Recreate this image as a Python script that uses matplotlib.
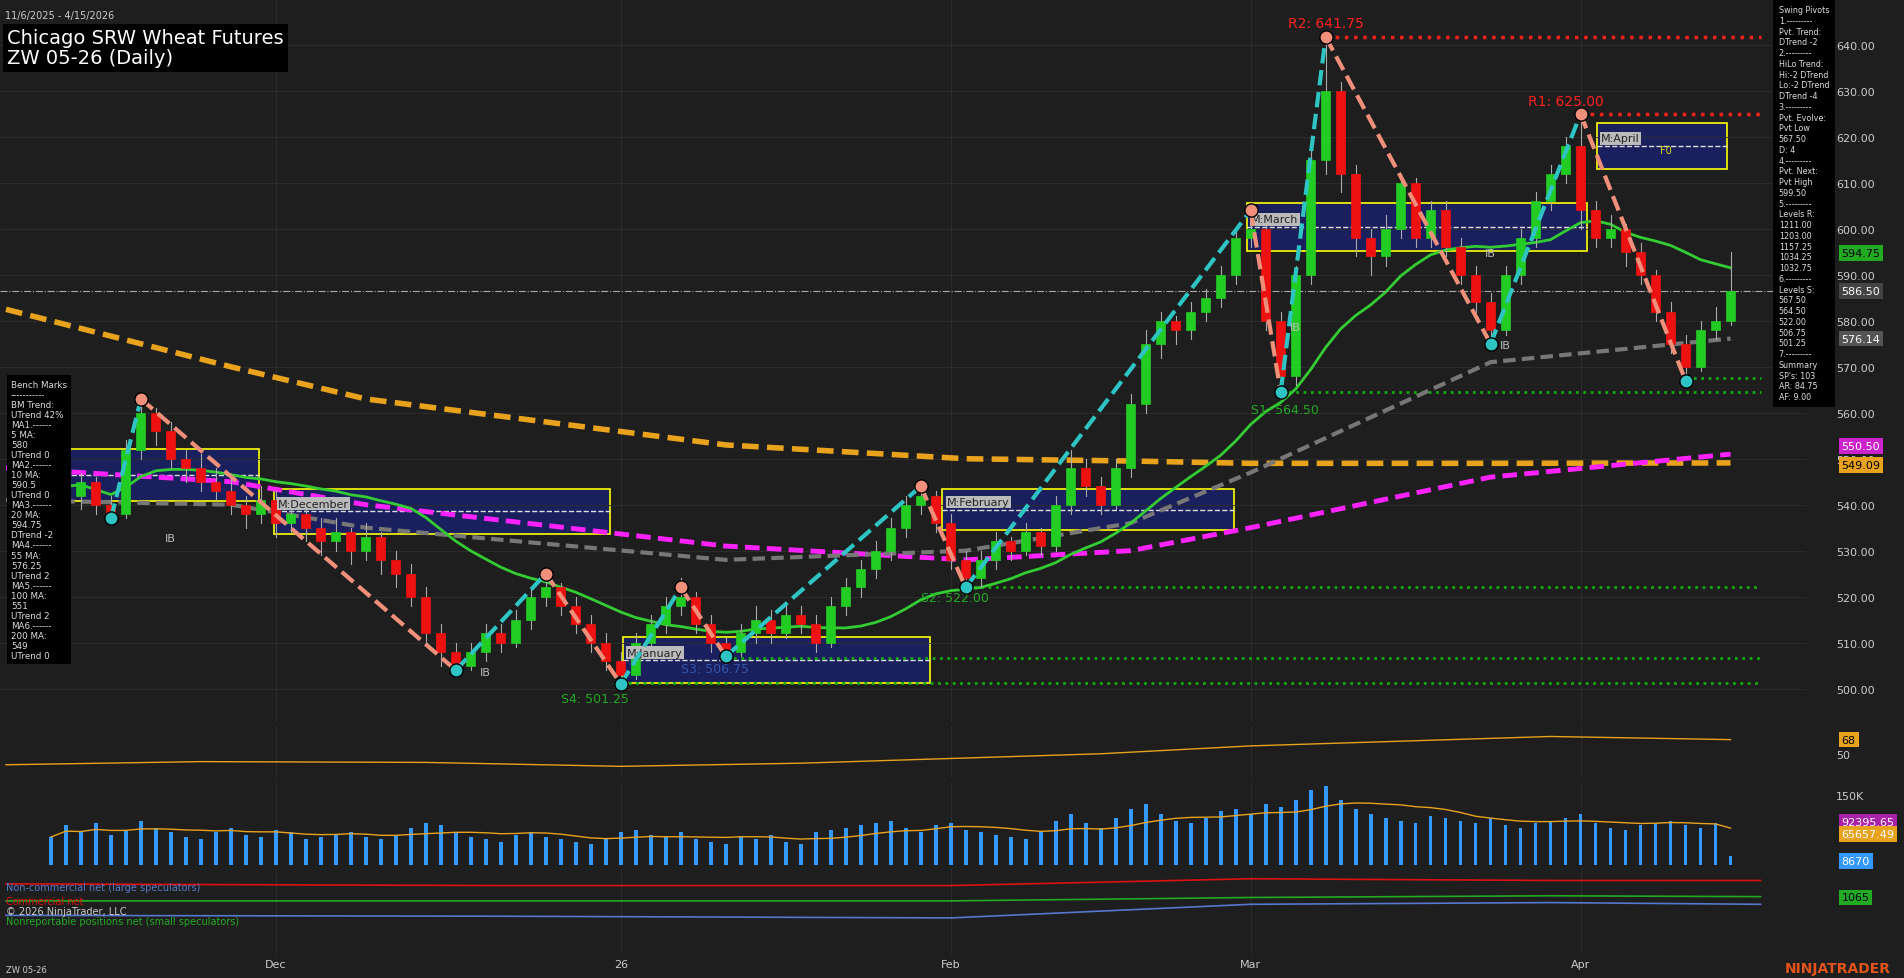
import matplotlib
matplotlib.use("Agg")
import matplotlib.pyplot as plt
import numpy as np
import pandas as pd
from matplotlib.patches import Rectangle
from matplotlib.transforms import blended_transform_factory as btf

W, H = 1566, 805
dates = pd.bdate_range("2025-11-10", "2026-04-15")
ohlc = [
(548,551,543,546),(546,548,540,542),(542,547,539,545),(545,546,538,540),(540,542,536,538),
(538,554,537,552),(552,563,550,560),(560,561,553,556),(556,558,548,550),(550,552,545,548),
(548,551,543,545),(545,548,541,543),(543,546,538,540),(540,542,535,538),(538,544,536,541),
(541,543,533,536),(536,541,534,538),(538,540,532,535),(535,537,529,532),(532,537,530,534),
(534,535,527,530),(530,536,528,533),(533,534,525,528),(528,530,522,525),(525,527,518,520),
(520,522,510,512),(512,514,505,508),(508,510,503,505),(505,510,504,508),(508,514,506,512),
(512,514,508,510),(510,517,509,515),(515,522,513,520),(520,525,518,522),(522,523,516,518),
(518,520,512,514),(514,516,508,510),(510,512,504,506),(506,508,501,503),(503,512,502,510),
(510,516,508,514),(514,520,512,518),(518,524,516,520),(520,521,512,514),(514,516,508,510),
(510,511,506,508),(508,514,507,512),(512,518,510,515),(515,517,510,512),(512,518,511,516),
(516,518,512,514),(514,516,508,510),(510,520,509,518),(518,524,516,522),(522,528,520,526),
(526,532,524,530),(530,537,528,535),(535,542,533,540),(540,545,538,542),(542,543,534,536),
(536,538,526,528),(528,530,522,524),(524,530,522,528),(528,534,526,532),(532,533,528,530),
(530,536,529,534),(534,535,529,531),(531,542,530,540),(540,552,538,548),(548,550,542,544),
(544,546,538,540),(540,550,539,548),(548,564,546,562),(562,578,560,575),(575,582,572,580),
(580,581,575,578),(578,584,576,582),(582,587,580,585),(585,592,583,590),(590,600,588,598),
(598,604,596,600),(600,601,578,580),(580,582,564,568),(568,592,566,590),(590,618,588,615),
(615,642,612,630),(630,632,608,612),(612,614,594,598),(598,600,590,594),(594,603,592,600),
(600,612,598,610),(610,611,596,598),(598,606,596,604),(604,606,594,596),(596,598,588,590),
(590,592,582,584),(584,586,575,578),(578,592,577,590),(590,600,588,598),(598,608,596,606),
(606,614,604,612),(612,620,610,618),(618,625,600,604),(604,606,596,598),(598,603,596,600),
(600,601,592,595),(595,597,588,590),(590,591,580,582),(582,584,573,575),(575,577,567,570),
(570,580,569,578),(578,583,576,580),(580,595,579,586.5)]
opens = [r[0] for r in ohlc]; highs = [r[1] for r in ohlc]
lows = [r[2] for r in ohlc]; closes = [r[3] for r in ohlc]
n = len(ohlc)

ma_idx = [-3, 12, 21, 45, 61, 72, 80, 96, 112]
ma55 = [541, 540, 535, 528, 530, 536, 547, 571, 576.14]
ma100 = [548, 545, 540, 531, 528, 530, 535, 546, 551]
ma200 = [582.5, 570, 563, 553, 550, 549.5, 549, 549, 549.09]

volume = [60,85,70,90,65,75,95,80,70,60,55,70,80,65,60,75,70,55,60,65,
          70,60,55,65,80,90,85,70,60,55,50,65,70,60,55,50,45,55,70,75,
          65,60,70,55,50,45,60,55,65,50,45,70,75,80,85,90,95,80,70,85,
          90,75,70,65,60,55,70,95,110,90,80,100,120,130,110,95,90,100,115,120,
          110,130,125,140,160,170,140,120,110,100,95,90,105,100,95,90,100,85,80,90,
          95,100,110,90,80,75,85,90,95,85,80,90,20]
osc_idx = [-3, 10, 25, 38, 50, 60, 70, 80, 90, 100, 106, 112]
osc = [36, 40, 39, 34, 38, 44, 50, 60, 66, 72, 70, 68]

BG = "#1e1e1e"
fig = plt.figure(figsize=(19.04, 9.79), dpi=100, facecolor=BG)

def ax_at(x0, y0, x1, y1):
    a = fig.add_axes([x0/W, 1-y1/H, (x1-x0)/W, (y1-y0)/H], facecolor=BG)
    for s in a.spines.values(): s.set_visible(False)
    a.tick_params(colors="#cccccc", labelsize=8, length=0)
    return a

XL = (-3.4, 117)
PAD = 22
ax = ax_at(0, 0, 1485, 595)
ax.set_xlim(*XL); ax.set_ylim(492.6, 650)
ax.yaxis.tick_right()
ax.tick_params(axis="y", pad=PAD)
ax.set_yticks(np.arange(500, 641, 10))
ax.set_yticklabels([f"{v:.2f}" for v in np.arange(500, 641, 10)])
ax.set_xticks([])
ax.grid(axis="y", color="#2e2e2e", lw=0.6)

def px(x): return (x-42)/12.33
def pp(y): return 640-(y-38)/3.78

boxes = [(40,213,370,413,""),(225,502,403,440,"M:December"),(512,765,525,563,"M:January"),
         (775,1015,403,437,"M:February"),(1025,1305,168,207,"M:March"),(1313,1420,102,140,"M:April")]
for x0,x1,y0,y1,lab in boxes:
    ax.add_patch(Rectangle((px(x0), pp(y1)), px(x1)-px(x0), pp(y0)-pp(y1),
                 facecolor="#1a1f5e", edgecolor="#ffff00", lw=1.2, zorder=1))
    ym = (pp(y0)+pp(y1))/2
    ax.plot([px(x0), px(x1)], [ym, ym], color="#dddddd", ls="--", lw=1, zorder=1)
    if lab:
        ax.text(px(x0)+0.3, ym+1, lab, fontsize=8, color="#222222",
                bbox=dict(fc="#bbbbbb", ec="none", pad=1), zorder=5)
ax.text(px(1365), pp(127), "F0", color="#dddd00", fontsize=7, zorder=5)

ax.plot([85, 114], [641.75, 641.75], color="#ff2020", ls=":", lw=2.5)
ax.plot([102, 114], [625, 625], color="#ff2020", ls=":", lw=2.5)
for x0, v in [(82, 564.5), (61, 522), (45, 506.75), (38, 501.25), (109, 567.5)]:
    ax.plot([x0, 114], [v, v], color="#11aa11", ls=":", lw=2)
ax.text(85, 644, "R2: 641.75", color="#ff2020", fontsize=10, ha="center")
ax.text(101, 627, "R1: 625.00", color="#ff2020", fontsize=10, ha="center")
ax.text(80, 560, "S1: 564.50", color="#22aa22", fontsize=9)
ax.text(58, 519, "S2: 522.00", color="#22aa22", fontsize=9)
ax.text(42, 503.5, "S3: 506.75", color="#3355aa", fontsize=9)
ax.text(34, 497, "S4: 501.25", color="#22aa22", fontsize=9)

ax.plot(ma_idx, ma200, color="#e8a21c", ls="--", lw=4, dashes=(3, 1.5), zorder=2)
ax.plot(ma_idx, ma100, color="#ff22ff", ls="--", lw=3.5, dashes=(3, 1.5), zorder=2)
ax.plot(ma_idx, ma55, color="#777777", ls="--", lw=3, dashes=(3, 1.5), zorder=2)
ma20 = pd.Series(closes).rolling(20, min_periods=1).mean()
ax.plot(range(n), ma20, color="#33cc33", lw=2, zorder=2)

for i in range(n):
    o, h, l, c = opens[i], highs[i], lows[i], closes[i]
    col = "#22cc22" if c >= o else "#ee1111"
    ax.plot([i, i], [l, h], color="#aaaaaa", lw=0.8, zorder=3)
    ax.add_patch(Rectangle((i-0.3, min(o, c)), 0.6, max(abs(c-o), 0.4),
                 facecolor=col, edgecolor=col, lw=0.5, zorder=4))

piv = [(4, 537, "L"), (6, 563, "H"), (27, 504, "L"), (33, 525, "H"), (38, 501, "L"),
       (42, 522, "H"), (45, 507, "L"), (58, 544, "H"), (61, 522, "L"), (80, 604, "H"),
       (82, 564.5, "L"), (85, 641.75, "H"), (96, 575, "L"), (102, 625, "H"), (109, 567, "L")]
for (x0, y0, t0), (x1, y1, t1) in zip(piv[:-1], piv[1:]):
    col = "#2ec4c4" if y1 > y0 else "#f0907a"
    ax.plot([x0, x1], [y0, y1], color=col, ls="--", lw=3, zorder=5)
for x0, y0, t in piv:
    ax.scatter([x0], [y0], s=90, color="#2ec4c4" if t == "L" else "#f0907a",
               edgecolor="k", zorder=6)
for x0, y0 in [(28, 505), (96, 576), (82, 580), (95, 596), (7, 534)]:
    ax.text(x0+0.6, y0-2, "IB", color="#bbbbbb", fontsize=8, zorder=6)

ax.axhline(586.5, color="#aaaaaa", ls="-.", lw=0.8)

def rlabel(a, v, t, col, tc):
    a.text(1.02, v, t, color=tc, fontsize=8, va="center", transform=btf(a.transAxes, a.transData),
           bbox=dict(fc=col, ec="none", pad=2), zorder=30, clip_on=False)

for v, col, tc in [(594.75, "#22aa22", "k"), (586.5, "#444444", "w"), (576.14, "#555555", "w"),
                   (552.8, "#cc22cc", "w"), (548.6, "#e8a21c", "k")]:
    rlabel(ax, v, {552.8: "550.50", 548.6: "549.09"}.get(v, f"{v:.2f}"), col, tc)

ax.text(0.003, 0.985, "11/6/2025 - 4/15/2026", transform=ax.transAxes, color="#cccccc",
        fontsize=7, va="top")
ax.text(0.004, 0.96, "Chicago SRW Wheat Futures\nZW 05-26 (Daily)", transform=ax.transAxes,
        color="white", fontsize=14, va="top", linespacing=1.1,
        bbox=dict(fc="#000000", ec="none", pad=3))

info = ("Swing Pivots\n1.---------\nPvt. Trend:\nDTrend -2\n2.---------\nHiLo Trend:\nHi:-2 DTrend\n"
        "Lo:-2 DTrend\nDTrend -4\n3.---------\nPvt. Evolve:\nPvt Low\n567.50\nD: 4\n4.---------\n"
        "Pvt. Next:\nPvt High\n599.50\n5.---------\nLevels R:\n1211.00\n1203.00\n1157.25\n1034.25\n"
        "1032.75\n6.---------\nLevels S:\n567.50\n564.50\n522.00\n506.75\n501.25\n7.---------\n"
        "Summary\nSP's: 103\nAR: 84.75\nAF: 9.00")
fig.text(1463/W, 1-5/H, info, color="#dddddd", fontsize=5.8, va="top", linespacing=1.25,
         bbox=dict(fc="black", ec="none", pad=4), zorder=20)
bench = ("Bench Marks\n-----------\nBM Trend:\nUTrend 42%\nMA1.------\n5 MA:\n580\nUTrend 0\nMA2.------\n"
         "10 MA:\n590.5\nUTrend 0\nMA3.------\n20 MA:\n594.75\nDTrend -2\nMA4.------\n55 MA:\n576.25\n"
         "UTrend 2\nMA5.------\n100 MA:\n551\nUTrend 2\nMA6.------\n200 MA:\n549\nUTrend 0")
fig.text(9/W, 1-313/H, bench, color="#dddddd", fontsize=6.3, va="top", linespacing=1.15,
         bbox=dict(fc="black", ec="none", pad=3))

a2 = ax_at(0, 598, 1485, 640); a2.set_xlim(*XL); a2.set_ylim(20, 85)
a2.plot(osc_idx, osc, color="#e8a21c", lw=1)
a2.yaxis.tick_right(); a2.set_yticks([50]); a2.set_xticks([])
a2.tick_params(axis="y", pad=PAD)
rlabel(a2, 68, "68", "#e8a21c", "k")
a3 = ax_at(0, 645, 1485, 712); a3.set_xlim(*XL); a3.set_ylim(0, 175)
a3.bar(range(n), volume, width=0.25, color="#3399ff")
a3.plot(range(n), pd.Series(volume).rolling(10, min_periods=1).mean(), color="#e8a21c", lw=1)
a3.yaxis.tick_right(); a3.set_yticks([150]); a3.set_yticklabels(["150K"]); a3.set_xticks([])
a3.tick_params(axis="y", pad=PAD)
for v, t, col in [(92, "92395.65", "#aa22aa"), (66, "65657.49", "#e8a21c"), (8.7, "8670", "#3399ff")]:
    rlabel(a3, v, t, col, "w")
a4 = ax_at(0, 715, 1485, 785); a4.set_xlim(*XL); a4.set_ylim(0, 100)
cot_idx = [-3, 30, 60, 80, 100, 114]
a4.plot(cot_idx, [82, 80, 80, 88, 86, 86], color="#dd1111", lw=1.2)
a4.plot(cot_idx, [62, 62, 62, 66, 68, 67], color="#22aa22", lw=1.2)
a4.plot(cot_idx, [45, 44, 42, 58, 60, 58], color="#5577cc", lw=1.2)
a4.set_yticks([])
rlabel(a4, 66, "1065", "#22aa22", "k")
a4.text(-3, 78, "Non-commercial net (large speculators)", color="#5577cc", fontsize=7, va="center")
a4.text(-3, 62, "Commercial net", color="#dd1111", fontsize=7, va="center")
a4.text(-3, 50, "© 2026 NinjaTrader, LLC", color="#cccccc", fontsize=7, va="center")
a4.text(-3, 38, "Nonreportable positions net (small speculators)", color="#22aa22", fontsize=7, va="center")
ticks = [15, 38, 60, 80, 102]
a4.set_xticks(ticks); a4.set_xticklabels(["Dec", "26", "Feb", "Mar", "Apr"])
for a in (ax, a2, a3, a4):
    for t in ticks:
        a.axvline(t, color="#2e2e2e", lw=0.6, zorder=0)
fig.text(5/W, 1-798/H, "ZW 05-26", color="#cccccc", fontsize=6, va="center")
fig.text(1555/W, 1-797/H, "NINJATRADER", color="#e2541b", fontsize=10, weight="bold",
         ha="right", va="center")
fig.savefig("out.png", dpi=100, facecolor=BG)
